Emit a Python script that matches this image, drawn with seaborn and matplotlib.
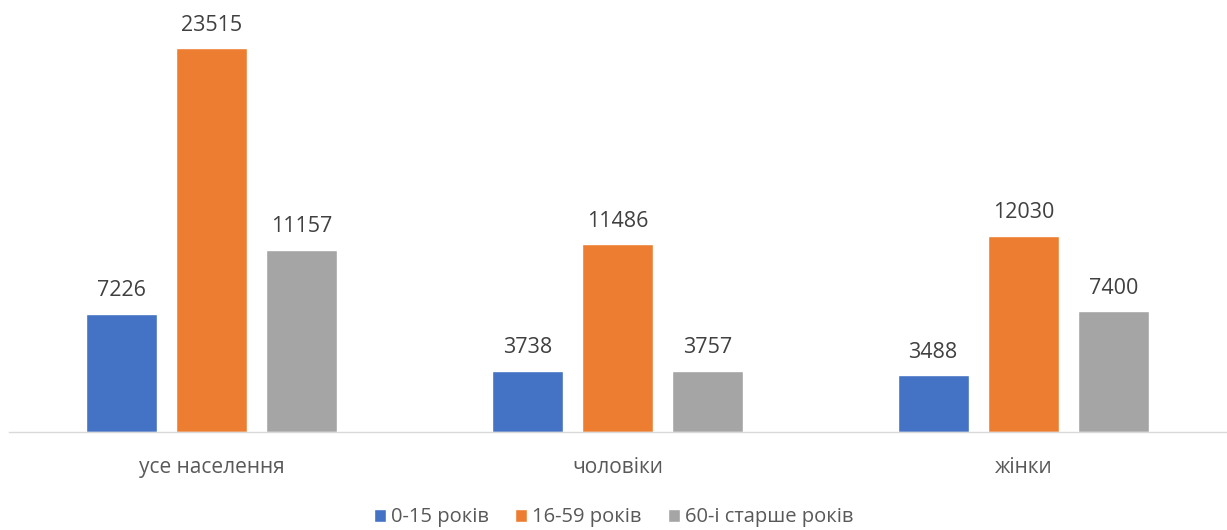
import pandas as pd
import matplotlib.pyplot as plt
import seaborn as sns

# population by age group
groups = ['усе населення', 'чоловіки', 'жінки']
ages = ['0-15 років', '16-59 років', '60-і старше років']
age_0_15 = [7226, 3738, 3488]
age_16_59 = [23515, 11486, 12030]
age_60 = [11157, 3757, 7400]
colors = ['#4472C4', '#ED7D31', '#A5A5A5']

df = pd.DataFrame({
    'group': groups * 3,
    'age': [ages[0]] * 3 + [ages[1]] * 3 + [ages[2]] * 3,
    'value': age_0_15 + age_16_59 + age_60,
})

sns.set_style('white')
plt.rcParams['font.family'] = ['Open Sans', 'DejaVu Sans']

fig = plt.figure(figsize=(12.27, 5.30), dpi=100)
ax = fig.add_axes([0.007, 0.185, 0.9925, 0.77])

sns.barplot(data=df, x='group', y='value', hue='age', order=groups, hue_order=ages,
            palette=colors, width=0.667, gap=0.21, saturation=1, ax=ax, legend=True)

for cont in ax.containers:
    ax.bar_label(cont, fmt='%d', padding=9, fontsize=15.5, color='#404040')

ax.set_xlim(-0.5, 2.5)
ax.set_ylim(0, 25000)
ax.set_xlabel('')
ax.set_ylabel('')
ax.set_yticks([])
ax.tick_params(axis='x', length=0, pad=18, labelsize=15, labelcolor='#595959')
for s in ['top', 'right', 'left']:
    ax.spines[s].set_visible(False)
ax.spines['bottom'].set_color('#D9D9D9')
ax.spines['bottom'].set_linewidth(1)

handles, labels = ax.get_legend_handles_labels()
ax.legend_.remove()
fig.legend(handles, labels, loc='center', bbox_to_anchor=(0.5, 0.024), ncol=3,
           frameon=False, fontsize=14.5, handlelength=0.6, handleheight=0.6,
           handletextpad=0.25, columnspacing=1.3, labelcolor='#595959')

fig.savefig('out.png', dpi=100)
